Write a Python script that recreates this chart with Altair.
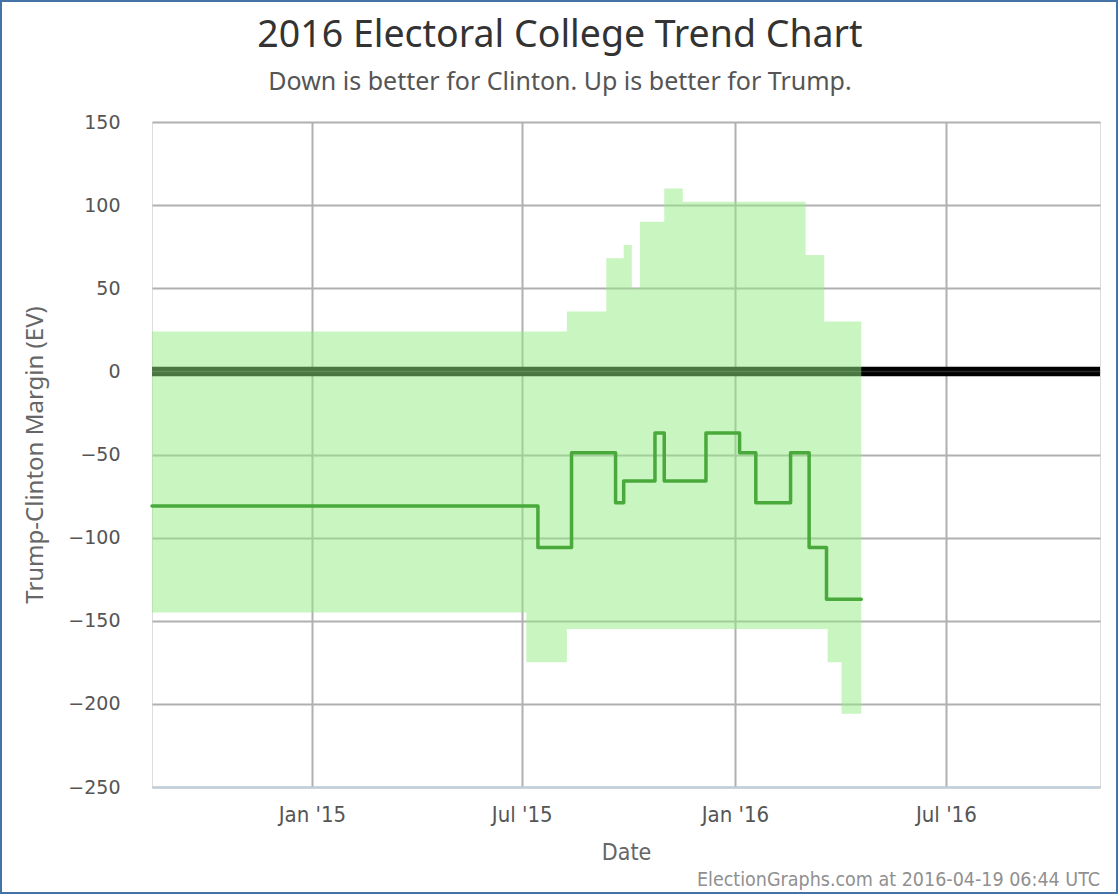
import altair as alt
import pandas as pd

# ---- data ----
band_dates = ["2014-08-16", "2015-07-05", "2015-08-09", "2015-09-12", "2015-09-27",
              "2015-10-04", "2015-10-11", "2015-11-01", "2015-11-17", "2016-03-02",
              "2016-03-18", "2016-03-21", "2016-04-02", "2016-04-19"]
band_upper = [24, 24, 36, 68, 76, 50, 90, 110, 102, 70, 30, 30, 30, 30]
band_lower = [-145, -175, -155, -155, -155, -155, -155, -155, -155, -155, -155, -175, -206, -206]

med_dates = ["2014-08-16", "2015-07-15", "2015-08-13", "2015-09-20", "2015-09-27",
             "2015-10-24", "2015-11-01", "2015-12-07", "2016-01-05", "2016-01-19",
             "2016-02-18", "2016-03-05", "2016-03-20", "2016-04-19"]
med_values = [-81, -106, -49, -79, -66, -37, -66, -37, -49, -79, -49, -106, -137, -137]

y_ticks = [-250, -200, -150, -100, -50, 0, 50, 100, 150]
x_ticks = [(2015, 1), (2015, 7), (2016, 1), (2016, 7)]
x_start = (2014, 8, 16)
x_end = (2016, 11, 11)

title_text = "2016 Electoral College Trend Chart"
subtitle_text = "Down is better for Clinton. Up is better for Trump."
footer_text = "ElectionGraphs.com at 2016-04-19 06:44 UTC"

band_df = pd.DataFrame({"date": band_dates, "upper": band_upper, "lower": band_lower})
med_df = pd.DataFrame({"date": med_dates, "margin": med_values})
one_df = pd.DataFrame({"t": [footer_text]})
title_df = pd.DataFrame({"t": [title_text]})
subtitle_df = pd.DataFrame({"t": [subtitle_text]})

W, H = 948, 665
PAD_L, PAD_T = 152, 122
COND = "DejaVu Sans Condensed, Liberation Sans Narrow, Noto Sans"

x_scale = alt.Scale(domain=[alt.DateTime(year=x_start[0], month=x_start[1], date=x_start[2]),
                            alt.DateTime(year=x_end[0], month=x_end[1], date=x_end[2])])
y_scale = alt.Scale(domain=[y_ticks[0], y_ticks[-1]], nice=False)

x_axis = alt.Axis(values=[alt.DateTime(year=y, month=m, date=1) for y, m in x_ticks],
                  format="%b '%y", title="Date")
y_axis = alt.Axis(values=y_ticks, title="Trump-Clinton Margin (EV)")

X_TITLE = "Date"
Y_TITLE = "Trump-Clinton Margin (EV)"

zero_rule = alt.Chart(one_df).mark_rule(color="black", strokeWidth=9.5).encode(
    y=alt.datum(0))
zero_stripe = alt.Chart(one_df).mark_rule(color="#2a2a2a", strokeWidth=1.5).encode(
    y=alt.datum(0))

band = alt.Chart(band_df).mark_area(
    interpolate="step-after", color="#93eb81", opacity=0.5
).encode(
    x=alt.X("date:T", scale=x_scale, axis=x_axis, title=X_TITLE),
    y=alt.Y("upper:Q", scale=y_scale, axis=y_axis, title=Y_TITLE),
    y2="lower:Q",
)

line = alt.Chart(med_df).mark_line(
    interpolate="step-after", color="#49a93b", strokeWidth=3.5,
    strokeCap="round", strokeJoin="round"
).encode(
    x=alt.X("date:T", scale=x_scale, axis=x_axis, title=X_TITLE),
    y=alt.Y("margin:Q", scale=y_scale, axis=y_axis, title=Y_TITLE),
)

title_mark = alt.Chart(title_df).mark_text(
    align="center", baseline="middle", fontSize=37.5, color="#333333", font="Noto Sans"
).encode(x=alt.value(560 - PAD_L), y=alt.value(36 - PAD_T), text="t:N")

subtitle_mark = alt.Chart(subtitle_df).mark_text(
    align="center", baseline="middle", fontSize=25, color="#555555", font="Noto Sans"
).encode(x=alt.value(560 - PAD_L), y=alt.value(82 - PAD_T), text="t:N")

footer = alt.Chart(one_df).mark_text(
    align="right", baseline="middle", fontSize=19.5, color="#909090", font=COND
).encode(x=alt.value(W), y=alt.value(880 - PAD_T), text="t:N")

border = alt.Chart(one_df).mark_rect(
    filled=False, stroke="#4572a7", strokeWidth=2
).encode(
    x=alt.value(1 - PAD_L), x2=alt.value(1117 - PAD_L),
    y=alt.value(1 - PAD_T), y2=alt.value(893 - PAD_T),
)

chart = alt.layer(zero_rule, zero_stripe, band, line, title_mark, subtitle_mark,
                  footer, border).properties(
    width=W, height=H,
    autosize=alt.AutoSizeParams(type="none"),
    padding={"left": PAD_L, "top": PAD_T, "right": 1120 - PAD_L - W, "bottom": 896 - PAD_T - H},
).configure_view(stroke=None).configure(background="white").configure_axisX(
    grid=True, gridColor="#b0b0b0", gridWidth=2, ticks=False,
    domainColor="#c0d0e0", domainWidth=2,
    labelFont=COND, labelFontSize=22, labelColor="#555555",
    labelPadding=17,
    titleFont=COND, titleFontSize=23, titleColor="#666666",
    titleFontWeight="normal", titlePadding=16,
).configure_axisY(
    grid=True, gridColor="#b0b0b0", gridWidth=2, ticks=False, domain=False,
    labelFont="DejaVu Sans", labelFontSize=19, labelColor="#555555", labelPadding=32,
    titleFont="Noto Sans", titleFontSize=24, titleColor="#666666",
    titleFontWeight="normal", titlePadding=20,
)

chart.save("out.html", embed_options={"renderer": "svg", "actions": False})
